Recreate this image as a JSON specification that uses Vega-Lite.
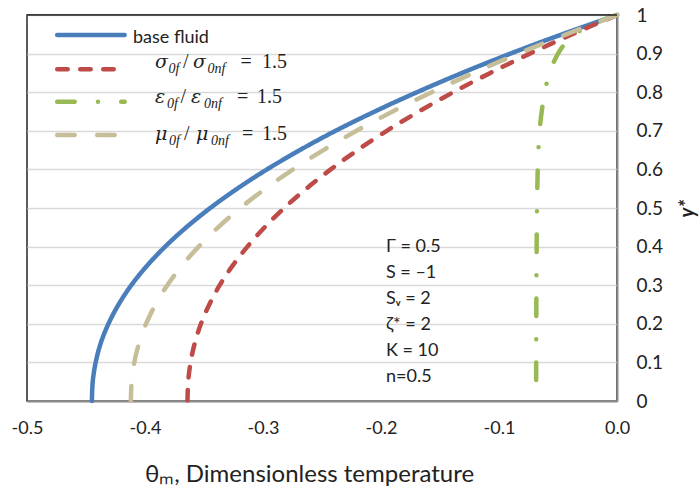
{
"$schema": "https://vega.github.io/schema/vega-lite/v6.json",
"width": 590, "height": 386,
"autosize": {"type": "none"},
"padding": {"left": 27, "top": 15, "right": 82, "bottom": 92},
"background": "white",
"config": {"view": {"stroke": "#262626", "strokeWidth": 1.5}, "font": "Lato"},
"data": {"values": [{}]},
"datasets": {
"curves": [
{"s":"base","t":0,"y":1},{"s":"base","t":-0.0465,"y":0.95},{"s":"base","t":-0.0903,"y":0.9},{"s":"base","t":-0.1312,"y":0.85},{"s":"base","t":-0.1695,"y":0.8},{"s":"base","t":-0.2053,"y":0.75},{"s":"base","t":-0.2385,"y":0.7},{"s":"base","t":-0.2688,"y":0.65},{"s":"base","t":-0.2966,"y":0.6},{"s":"base","t":-0.3219,"y":0.55},{"s":"base","t":-0.3447,"y":0.5},{"s":"base","t":-0.365,"y":0.45},{"s":"base","t":-0.3829,"y":0.4},{"s":"base","t":-0.3984,"y":0.35},{"s":"base","t":-0.4116,"y":0.3},{"s":"base","t":-0.4224,"y":0.25},{"s":"base","t":-0.431,"y":0.2},{"s":"base","t":-0.4375,"y":0.15},{"s":"base","t":-0.4418,"y":0.1},{"s":"base","t":-0.4443,"y":0.05},{"s":"base","t":-0.445,"y":0},
{"s":"sigma","t":0,"y":1},{"s":"sigma","t":-0.038,"y":0.95},{"s":"sigma","t":-0.0739,"y":0.9},{"s":"sigma","t":-0.1073,"y":0.85},{"s":"sigma","t":-0.1387,"y":0.8},{"s":"sigma","t":-0.1679,"y":0.75},{"s":"sigma","t":-0.1951,"y":0.7},{"s":"sigma","t":-0.2199,"y":0.65},{"s":"sigma","t":-0.2426,"y":0.6},{"s":"sigma","t":-0.2633,"y":0.55},{"s":"sigma","t":-0.282,"y":0.5},{"s":"sigma","t":-0.2986,"y":0.45},{"s":"sigma","t":-0.3132,"y":0.4},{"s":"sigma","t":-0.3259,"y":0.35},{"s":"sigma","t":-0.3367,"y":0.3},{"s":"sigma","t":-0.3455,"y":0.25},{"s":"sigma","t":-0.3526,"y":0.2},{"s":"sigma","t":-0.3578,"y":0.15},{"s":"sigma","t":-0.3614,"y":0.1},{"s":"sigma","t":-0.3634,"y":0.05},{"s":"sigma","t":-0.364,"y":0},
{"s":"eps","t":0,"y":1},{"s":"eps","t":-0.0135,"y":0.985},{"s":"eps","t":-0.025,"y":0.97},{"s":"eps","t":-0.036,"y":0.95},{"s":"eps","t":-0.043,"y":0.93},{"s":"eps","t":-0.05,"y":0.9},{"s":"eps","t":-0.0572,"y":0.85},{"s":"eps","t":-0.0612,"y":0.8},{"s":"eps","t":-0.0638,"y":0.75},{"s":"eps","t":-0.0656,"y":0.7},{"s":"eps","t":-0.0666,"y":0.65},{"s":"eps","t":-0.0672,"y":0.6},{"s":"eps","t":-0.0678,"y":0.5},{"s":"eps","t":-0.0681,"y":0.4},{"s":"eps","t":-0.0683,"y":0.3},{"s":"eps","t":-0.0684,"y":0.2},{"s":"eps","t":-0.0685,"y":0.1},{"s":"eps","t":-0.0685,"y":0},
{"s":"mu","t":0,"y":1},{"s":"mu","t":-0.043,"y":0.95},{"s":"mu","t":-0.0836,"y":0.9},{"s":"mu","t":-0.1215,"y":0.85},{"s":"mu","t":-0.157,"y":0.8},{"s":"mu","t":-0.1901,"y":0.75},{"s":"mu","t":-0.2208,"y":0.7},{"s":"mu","t":-0.2488,"y":0.65},{"s":"mu","t":-0.2746,"y":0.6},{"s":"mu","t":-0.298,"y":0.55},{"s":"mu","t":-0.3192,"y":0.5},{"s":"mu","t":-0.338,"y":0.45},{"s":"mu","t":-0.3545,"y":0.4},{"s":"mu","t":-0.3689,"y":0.35},{"s":"mu","t":-0.3811,"y":0.3},{"s":"mu","t":-0.3911,"y":0.25},{"s":"mu","t":-0.3991,"y":0.2},{"s":"mu","t":-0.405,"y":0.15},{"s":"mu","t":-0.4091,"y":0.1},{"s":"mu","t":-0.4113,"y":0.05},{"s":"mu","t":-0.412,"y":0}
]
},
"layer": [
{
"data": {"name": "curves"},
"mark": {"type": "line", "strokeWidth": 4.5, "strokeCap": "round", "strokeJoin": "round", "interpolate": "catmull-rom"},
"encoding": {
"x": {"field": "t", "type": "quantitative", "scale": {"domain": [-0.5, 0], "nice": false, "zero": false},
"axis": {"values": [-0.5,-0.4,-0.3,-0.2,-0.1,0], "labelExpr": "(datum.value < -0.0001 ? '-' : '') + format(abs(datum.value), '.1f')", "grid": false, "ticks": false, "domainColor": "#8C8C8C", "domainWidth": 2, "labelFont": "Lato", "labelFontSize": 18, "labelColor": "#222222", "labelPadding": 18, "labelFlush": false, "labelOverlap": false,
"title": "θₘ, Dimensionless temperature", "titleFont": "Lato", "titleFontSize": 24, "titleFontWeight": "normal", "titleColor": "#222222", "titleBaseline": "alphabetic", "titleAlign": "center", "titleX": 282, "titleY": 80}},
"y": {"field": "y", "type": "quantitative", "scale": {"domain": [0, 1], "nice": false},
"axis": {"orient": "right", "tickCount": 10, "format": ".1~f", "grid": true,
"gridColor": "#D9D9D9", "gridWidth": 1.3,
"ticks": false, "domainColor": "#8C8C8C", "domainWidth": 2, "labelFont": "Lato", "labelFontSize": 19, "labelColor": "#222222", "labelPadding": 19, "labelAlign": "left", "labelBaseline": "middle", "labelFlush": false, "labelOverlap": false,
"title": "y*", "titleFont": "Lato", "titleFontSize": 20, "titleFontStyle": "italic", "titleFontWeight": "bold", "titleColor": "#222222", "titleAngle": 270, "titleBaseline": "alphabetic", "titleAlign": "center", "titleX": 76, "titleY": 193}},
"color": {"field": "s", "type": "nominal", "scale": {"domain": ["base","sigma","eps","mu"], "range": ["#4A7EBB","#BE4B48","#98B954","#C6BE98"]}, "legend": null},
"strokeDash": {"field": "s", "type": "nominal", "scale": {"domain": ["base","sigma","eps","mu"], "range": [[1,0],[10.5,12.5],[17.5,23.25,0.01,23.25],[17.5,22.5]]}, "legend": null},
"order": {"field": "y", "sort": "descending"}
}
},
{"mark": {"type": "rule", "strokeWidth": 1.5, "color": "#262626"}, "encoding": {"x": {"datum": -0.5}, "x2": {"datum": 0}, "y": {"datum": 1}}},
{"mark": {"type": "rule", "strokeWidth": 4.5, "strokeCap": "round", "color": "#4A7EBB"}, "encoding": {"x": {"datum": -0.4744}, "x2": {"datum": -0.4172}, "y": {"datum": 0.9482}}},
{"mark": {"type": "rule", "strokeWidth": 4.5, "strokeCap": "round", "color": "#BE4B48", "strokeDash": [10.5,12.5]}, "encoding": {"x": {"datum": -0.4744}, "x2": {"datum": -0.4172}, "y": {"datum": 0.8593}}},
{"mark": {"type": "rule", "strokeWidth": 4.5, "strokeCap": "round", "color": "#98B954", "strokeDash": [17.5,23.25,0.01,23.25]}, "encoding": {"x": {"datum": -0.4744}, "x2": {"datum": -0.4172}, "y": {"datum": 0.7754}}},
{"mark": {"type": "rule", "strokeWidth": 4.5, "strokeCap": "round", "color": "#C6BE98", "strokeDash": [17.5,22.5]}, "encoding": {"x": {"datum": -0.4744}, "x2": {"datum": -0.4172}, "y": {"datum": 0.6891}}},
{"mark": {"type": "text", "align": "left", "baseline": "alphabetic", "font": "Lato", "fontSize": 18, "color": "#222222"}, "encoding": {"x": {"datum": -0.4102}, "y": {"datum": 0.9267}, "text": {"value": "base fluid"}}},

{"mark": {"type": "text", "align": "left", "baseline": "alphabetic", "font": "DejaVu Serif", "fontStyle": "italic", "fontSize": 19, "color": "#222222"}, "encoding": {"x": {"datum": -0.3915}, "y": {"datum": 0.8619}, "text": {"value": "σ"}}},
{"mark": {"type": "text", "align": "left", "baseline": "alphabetic", "font": "Liberation Serif", "fontStyle": "italic", "fontSize": 14, "dy": 5, "color": "#222222"}, "encoding": {"x": {"datum": -0.3801}, "y": {"datum": 0.8619}, "text": {"value": "0f"}}},
{"mark": {"type": "text", "align": "left", "baseline": "alphabetic", "font": "Liberation Serif", "fontSize": 20, "color": "#222222"}, "encoding": {"x": {"datum": -0.3678}, "y": {"datum": 0.8619}, "text": {"value": "/"}}},
{"mark": {"type": "text", "align": "left", "baseline": "alphabetic", "font": "DejaVu Serif", "fontStyle": "italic", "fontSize": 19, "color": "#222222"}, "encoding": {"x": {"datum": -0.3593}, "y": {"datum": 0.8619}, "text": {"value": "σ"}}},
{"mark": {"type": "text", "align": "left", "baseline": "alphabetic", "font": "Liberation Serif", "fontStyle": "italic", "fontSize": 14, "dy": 5, "color": "#222222"}, "encoding": {"x": {"datum": -0.3470}, "y": {"datum": 0.8619}, "text": {"value": "0nf"}}},
{"mark": {"type": "text", "align": "left", "baseline": "alphabetic", "font": "Liberation Serif", "fontSize": 20, "color": "#222222"}, "encoding": {"x": {"datum": -0.3191}, "y": {"datum": 0.8619}, "text": {"value": "="}}},
{"mark": {"type": "text", "align": "left", "baseline": "alphabetic", "font": "Liberation Serif", "fontSize": 20, "color": "#222222"}, "encoding": {"x": {"datum": -0.3009}, "y": {"datum": 0.8619}, "text": {"value": "1.5"}}},

{"mark": {"type": "text", "align": "left", "baseline": "alphabetic", "font": "DejaVu Serif", "fontStyle": "italic", "fontSize": 19, "color": "#222222"}, "encoding": {"x": {"datum": -0.3915}, "y": {"datum": 0.7712}, "text": {"value": "ε"}}},
{"mark": {"type": "text", "align": "left", "baseline": "alphabetic", "font": "Liberation Serif", "fontStyle": "italic", "fontSize": 14, "dy": 5, "color": "#222222"}, "encoding": {"x": {"datum": -0.3814}, "y": {"datum": 0.7712}, "text": {"value": "0f"}}},
{"mark": {"type": "text", "align": "left", "baseline": "alphabetic", "font": "Liberation Serif", "fontSize": 20, "color": "#222222"}, "encoding": {"x": {"datum": -0.3699}, "y": {"datum": 0.7712}, "text": {"value": "/"}}},
{"mark": {"type": "text", "align": "left", "baseline": "alphabetic", "font": "DejaVu Serif", "fontStyle": "italic", "fontSize": 19, "color": "#222222"}, "encoding": {"x": {"datum": -0.3610}, "y": {"datum": 0.7712}, "text": {"value": "ε"}}},
{"mark": {"type": "text", "align": "left", "baseline": "alphabetic", "font": "Liberation Serif", "fontStyle": "italic", "fontSize": 14, "dy": 5, "color": "#222222"}, "encoding": {"x": {"datum": -0.3500}, "y": {"datum": 0.7712}, "text": {"value": "0nf"}}},
{"mark": {"type": "text", "align": "left", "baseline": "alphabetic", "font": "Liberation Serif", "fontSize": 20, "color": "#222222"}, "encoding": {"x": {"datum": -0.322}, "y": {"datum": 0.7712}, "text": {"value": "="}}},
{"mark": {"type": "text", "align": "left", "baseline": "alphabetic", "font": "Liberation Serif", "fontSize": 20, "color": "#222222"}, "encoding": {"x": {"datum": -0.3051}, "y": {"datum": 0.7712}, "text": {"value": "1.5"}}},

{"mark": {"type": "text", "align": "left", "baseline": "alphabetic", "font": "DejaVu Serif", "fontStyle": "italic", "fontSize": 19, "color": "#222222"}, "encoding": {"x": {"datum": -0.3915}, "y": {"datum": 0.6762}, "text": {"value": "μ"}}},
{"mark": {"type": "text", "align": "left", "baseline": "alphabetic", "font": "Liberation Serif", "fontStyle": "italic", "fontSize": 14, "dy": 5, "color": "#222222"}, "encoding": {"x": {"datum": -0.3797}, "y": {"datum": 0.6762}, "text": {"value": "0f"}}},
{"mark": {"type": "text", "align": "left", "baseline": "alphabetic", "font": "Liberation Serif", "fontSize": 20, "color": "#222222"}, "encoding": {"x": {"datum": -0.367}, "y": {"datum": 0.6762}, "text": {"value": "/"}}},
{"mark": {"type": "text", "align": "left", "baseline": "alphabetic", "font": "DejaVu Serif", "fontStyle": "italic", "fontSize": 19, "color": "#222222"}, "encoding": {"x": {"datum": -0.3568}, "y": {"datum": 0.6762}, "text": {"value": "μ"}}},
{"mark": {"type": "text", "align": "left", "baseline": "alphabetic", "font": "Liberation Serif", "fontStyle": "italic", "fontSize": 14, "dy": 5, "color": "#222222"}, "encoding": {"x": {"datum": -0.3440}, "y": {"datum": 0.6762}, "text": {"value": "0nf"}}},
{"mark": {"type": "text", "align": "left", "baseline": "alphabetic", "font": "Liberation Serif", "fontSize": 20, "color": "#222222"}, "encoding": {"x": {"datum": -0.3178}, "y": {"datum": 0.6762}, "text": {"value": "="}}},
{"mark": {"type": "text", "align": "left", "baseline": "alphabetic", "font": "Liberation Serif", "fontSize": 20, "color": "#222222"}, "encoding": {"x": {"datum": -0.3009}, "y": {"datum": 0.6762}, "text": {"value": "1.5"}}},

{"mark": {"type": "text", "align": "left", "baseline": "alphabetic", "font": "Lato", "fontSize": 18, "lineHeight": 26, "color": "#222222"}, "encoding": {"x": {"datum": -0.1958}, "y": {"datum": 0.3868}, "text": {"value": ["Γ = 0.5", "S = –1", "Sᵥ = 2", "ζ* = 2", "K = 10", "n=0.5"]}}}
]
}
